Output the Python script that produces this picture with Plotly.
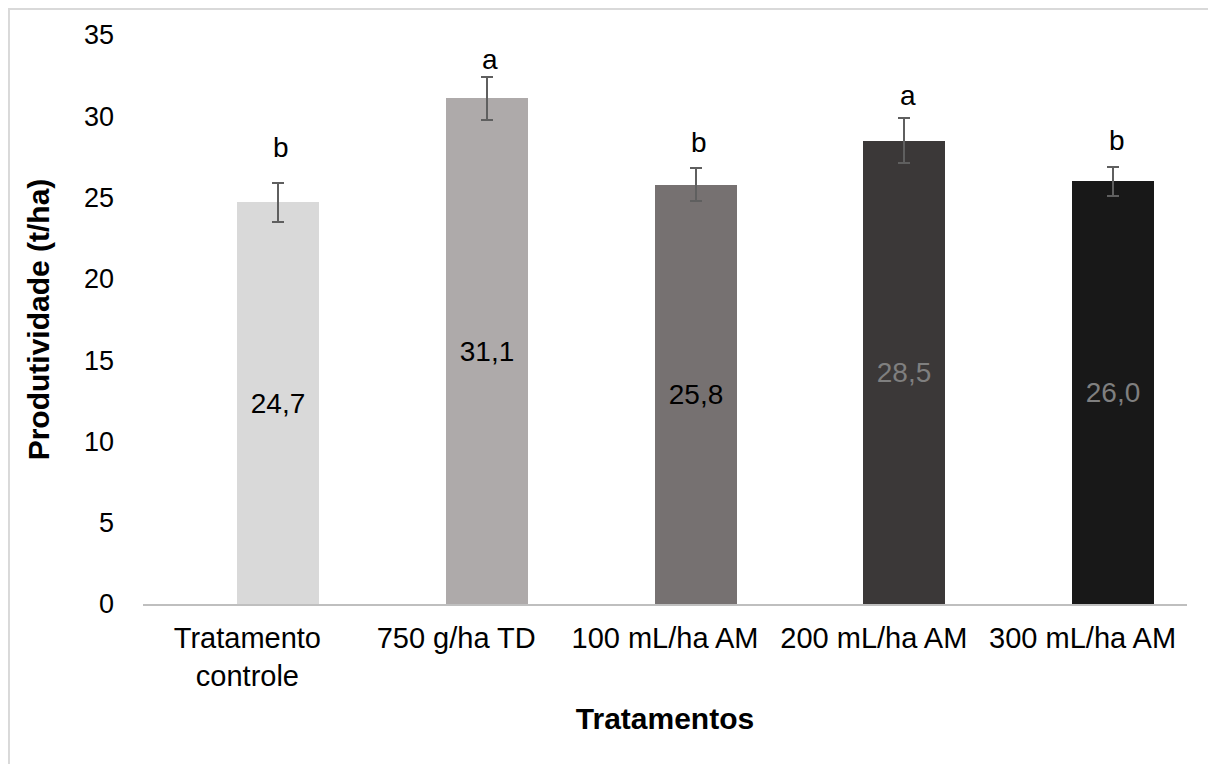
import plotly.graph_objects as go

categories = ["Tratamento<br>controle", "750 g/ha TD", "100 mL/ha AM", "200 mL/ha AM", "300 mL/ha AM"]
productivity = [24.7, 31.1, 25.8, 28.5, 26.0]
std_error = [1.2, 1.3, 1.0, 1.4, 0.9]
letters = ["b", "a", "b", "a", "b"]
letter_heights = [28.1, 33.5, 28.4, 31.3, 28.5]
bar_colors = ["#d9d9d9", "#aeaaaa", "#767171", "#3b3838", "#181818"]
label_colors = ["#000000", "#000000", "#000000", "#7f7f7f", "#7f7f7f"]
y_ticks = [0, 5, 10, 15, 20, 25, 30, 35]

FONT = "Liberation Sans, Arial, sans-serif"

fig = go.Figure()
fig.add_trace(go.Bar(
    x=categories,
    y=productivity,
    width=0.393,
    offset=-0.05,
    marker=dict(color=bar_colors, line=dict(width=0)),
    error_y=dict(type="data", array=std_error, visible=True,
                 color="#5f5f5f", thickness=2, width=6),
    texttemplate="%{y:.1f}",
    textposition="inside",
    insidetextanchor="middle",
    textangle=0,
    constraintext="none",
    textfont=dict(family=FONT, size=28, color=label_colors),
    showlegend=False,
    hoverinfo="skip",
))

for cat, letter, h in zip(categories, letters, letter_heights):
    fig.add_annotation(
        x=cat, y=h, text=letter, showarrow=False,
        xshift=34, yanchor="middle",
        font=dict(family=FONT, size=28, color="#000000"),
    )

# outer chart border
fig.add_shape(type="rect", xref="paper", yref="paper",
              x0=-0.1284, x1=1.0259, y0=-0.30, y1=1.0457,
              line=dict(color="#d9d9d9", width=2), fillcolor="rgba(0,0,0,0)",
              layer="below")

fig.update_layout(
    width=1208, height=756,
    margin=dict(l=135, r=29, t=27, b=160),
    paper_bgcolor="#ffffff",
    plot_bgcolor="#ffffff",
    separators=",.",
    font=dict(family=FONT, size=28, color="#000000"),
    bargap=0,
    showlegend=False,
)

fig.update_xaxes(
    type="category",
    showline=True, linecolor="#bfbfbf", linewidth=2,
    showgrid=False, zeroline=False, ticks="",
    tickfont=dict(family=FONT, size=29, color="#000000"),
    ticklabelstandoff=7,
    title=dict(text="<b>Tratamentos</b>", font=dict(family=FONT, size=30, color="#000000"), standoff=17),
)
fig.update_yaxes(
    range=[0, 35],
    tickvals=y_ticks,
    showline=False, showgrid=False, zeroline=False, ticks="",
    tickfont=dict(family=FONT, size=27, color="#000000"),
    ticklabelstandoff=28,
    title=dict(text="<b>Produtividade (t/ha)</b>", font=dict(family=FONT, size=30, color="#000000"), standoff=25),
)

fig.write_html("out.html")
